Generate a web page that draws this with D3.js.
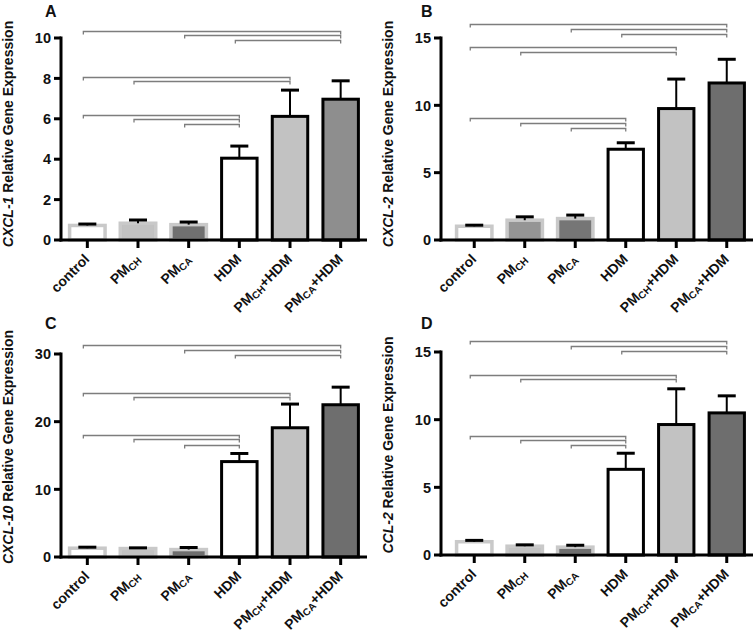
<!DOCTYPE html>
<html><head><meta charset="utf-8">
<script src="https://cdn.jsdelivr.net/npm/d3@7"></script>
<style>
body{margin:0;background:#fff}
text{font-family:"Liberation Sans",Arial,sans-serif;font-weight:bold;fill:#111}
</style>
</head><body>
<svg id="chart" width="755" height="635"></svg>
<script>
// ---------- data ----------
const categories = ["control", "PM_CH", "PM_CA", "HDM", "PM_CH+HDM", "PM_CA+HDM"];
const panelLetters = ["A", "B", "C", "D"];
const genes = ["CXCL-1", "CXCL-2", "CXCL-10", "CCL-2"];
const yMax = [10, 15, 30, 15];
const yTicks = [[0, 2, 4, 6, 8, 10], [0, 5, 10, 15], [0, 10, 20, 30], [0, 5, 10, 15]];

const meanA = [0.72, 0.83, 0.76, 4.05, 6.12, 6.97];
const semA  = [0.07, 0.16, 0.13, 0.60, 1.30, 0.91];
const meanB = [1.02, 1.47, 1.59, 6.74, 9.76, 11.66];
const semB  = [0.08, 0.25, 0.26, 0.48, 2.19, 1.76];
const meanC = [1.30, 1.25, 1.10, 14.1, 19.1, 22.5];
const semC  = [0.15, 0.10, 0.30, 1.20, 3.50, 2.60];
const meanD = [0.98, 0.65, 0.58, 6.33, 9.64, 10.50];
const semD  = [0.10, 0.10, 0.14, 1.19, 2.64, 1.26];

// significance brackets: [from index, to index, height in data units]
const bracketsA = [[0,5,10.36],[2,5,10.15],[3,5,9.9],[0,4,8.07],[1,4,7.89],[0,3,6.19],[1,3,5.99],[2,3,5.74]];
const bracketsB = [[0,5,16.04],[2,5,15.64],[3,5,15.3],[0,4,14.31],[1,4,13.99],[0,3,9.03],[1,3,8.66],[2,3,8.29]];
const bracketsC = [[0,5,31.26],[2,5,30.6],[3,5,29.8],[0,4,24.2],[1,4,23.6],[0,3,18.05],[1,3,17.4],[2,3,16.6]];
const bracketsD = [[0,5,15.79],[2,5,15.47],[3,5,15.1],[0,4,13.32],[1,4,13.0],[0,3,8.8],[1,3,8.5],[2,3,8.13]];

const means = [meanA, meanB, meanC, meanD];
const sems = [semA, semB, semC, semD];
const brackets = [bracketsA, bracketsB, bracketsC, bracketsD];

// ---------- style / layout ----------
const fills = [
  ["#ffffff", "#c2c2c2", "#707070", "#ffffff", "#c2c2c2", "#8e8e8e"],
  ["#ffffff", "#959595", "#767676", "#ffffff", "#c2c2c2", "#6e6e6e"],
  ["#ffffff", "#c2c2c2", "#6e6e6e", "#ffffff", "#c2c2c2", "#6e6e6e"],
  ["#ffffff", "#c2c2c2", "#6e6e6e", "#ffffff", "#c2c2c2", "#6e6e6e"]
];
const layout = [
  {ax: 61,  left: 62,  right: 366, y0: 240, yTop: 38,  labX: 13,  labY: 134, letX: 45,  letY: 17},
  {ax: 441, left: 449, right: 752, y0: 240, yTop: 38,  labX: 393, labY: 134, letX: 421, letY: 17},
  {ax: 61,  left: 62,  right: 366, y0: 557, yTop: 354, labX: 13,  labY: 447, letX: 45,  letY: 329},
  {ax: 441, left: 449, right: 752, y0: 555, yTop: 352, labX: 393, labY: 445, letX: 421, letY: 329}
];

const svg = d3.select("#chart");

function addLabel(sel, label, mainSize, subSize) {
  const parts = label.split(/(_CH|_CA)/).filter(s => s);
  let shifted = false;
  parts.forEach(p => {
    if (p.startsWith("_")) {
      sel.append("tspan").attr("font-size", subSize).attr("dy", 2).text(p.slice(1));
      shifted = true;
    } else {
      const t = sel.append("tspan").attr("font-size", mainSize).text(p);
      if (shifted) t.attr("dy", -2);
      shifted = false;
    }
  });
}

panelLetters.forEach((letter, p) => {
  const L = layout[p];
  const g = svg.append("g");
  const x = d3.scaleBand().domain(categories).range([L.left, L.right]).paddingInner(0.3).paddingOuter(0.15);
  const y = d3.scaleLinear().domain([0, yMax[p]]).range([L.y0, L.yTop]);
  const bw = x.bandwidth();

  // bars
  categories.forEach((c, i) => {
    const small = i < 3;
    g.append("rect")
      .attr("x", x(c)).attr("y", y(means[p][i]))
      .attr("width", bw).attr("height", L.y0 - y(means[p][i]))
      .attr("fill", fills[p][i])
      .attr("stroke", small ? "#c9c9c9" : "#000")
      .attr("stroke-width", small ? 3.5 : 3);
  });

  // error bars (upper only)
  categories.forEach((c, i) => {
    const cx = x(c) + bw / 2;
    const top = y(means[p][i] + sems[p][i]);
    g.append("line").attr("x1", cx).attr("x2", cx).attr("y1", y(means[p][i])).attr("y2", top)
      .attr("stroke", "#000").attr("stroke-width", 2);
    g.append("line").attr("x1", cx - 9).attr("x2", cx + 9).attr("y1", top).attr("y2", top)
      .attr("stroke", "#000").attr("stroke-width", 3);
  });

  // significance brackets
  brackets[p].forEach(b => {
    const x1 = x(categories[b[0]]) + bw / 2 - 4;
    const x2 = x(categories[b[1]]) + bw / 2;
    const yy = Math.round(y(b[2])) + 0.5;
    g.append("path")
      .attr("d", `M${x1},${yy + 3}V${yy}H${x2}V${yy + 3}`)
      .attr("fill", "none").attr("stroke", "#7d7d7d").attr("stroke-width", 1.3);
  });

  // y axis
  g.append("line").attr("x1", L.ax).attr("x2", L.ax).attr("y1", L.y0 + 1.5).attr("y2", y(yMax[p]) - 1.5)
    .attr("stroke", "#000").attr("stroke-width", 3);
  yTicks[p].forEach(t => {
    g.append("line").attr("x1", L.ax - 7).attr("x2", L.ax).attr("y1", y(t)).attr("y2", y(t))
      .attr("stroke", "#000").attr("stroke-width", 3);
    g.append("text").attr("x", L.ax - 10).attr("y", y(t)).attr("dy", "0.36em")
      .attr("text-anchor", "end").attr("font-size", 14.5).text(t);
  });

  // x axis
  g.append("line").attr("x1", L.ax - 1.5).attr("x2", L.right + 1).attr("y1", L.y0).attr("y2", L.y0)
    .attr("stroke", "#000").attr("stroke-width", 3);
  categories.forEach(c => {
    const cx = x(c) + bw / 2;
    g.append("line").attr("x1", cx).attr("x2", cx).attr("y1", L.y0).attr("y2", L.y0 + 8)
      .attr("stroke", "#000").attr("stroke-width", 3);
    const t = g.append("text")
      .attr("transform", `translate(${cx + 3},${L.y0 + 20}) rotate(-45)`)
      .attr("text-anchor", "end");
    addLabel(t, c, 14, 10);
  });

  // y label
  const yl = g.append("text")
    .attr("transform", `translate(${L.labX},${L.labY}) rotate(-90)`)
    .attr("text-anchor", "middle").attr("font-size", 14);
  yl.append("tspan").attr("font-style", "italic").text(genes[p]);
  yl.append("tspan").text(" Relative Gene Expression");

  // panel letter
  g.append("text").attr("x", L.letX).attr("y", L.letY).attr("font-size", 16).text(letter);
});
</script>
</body></html>
